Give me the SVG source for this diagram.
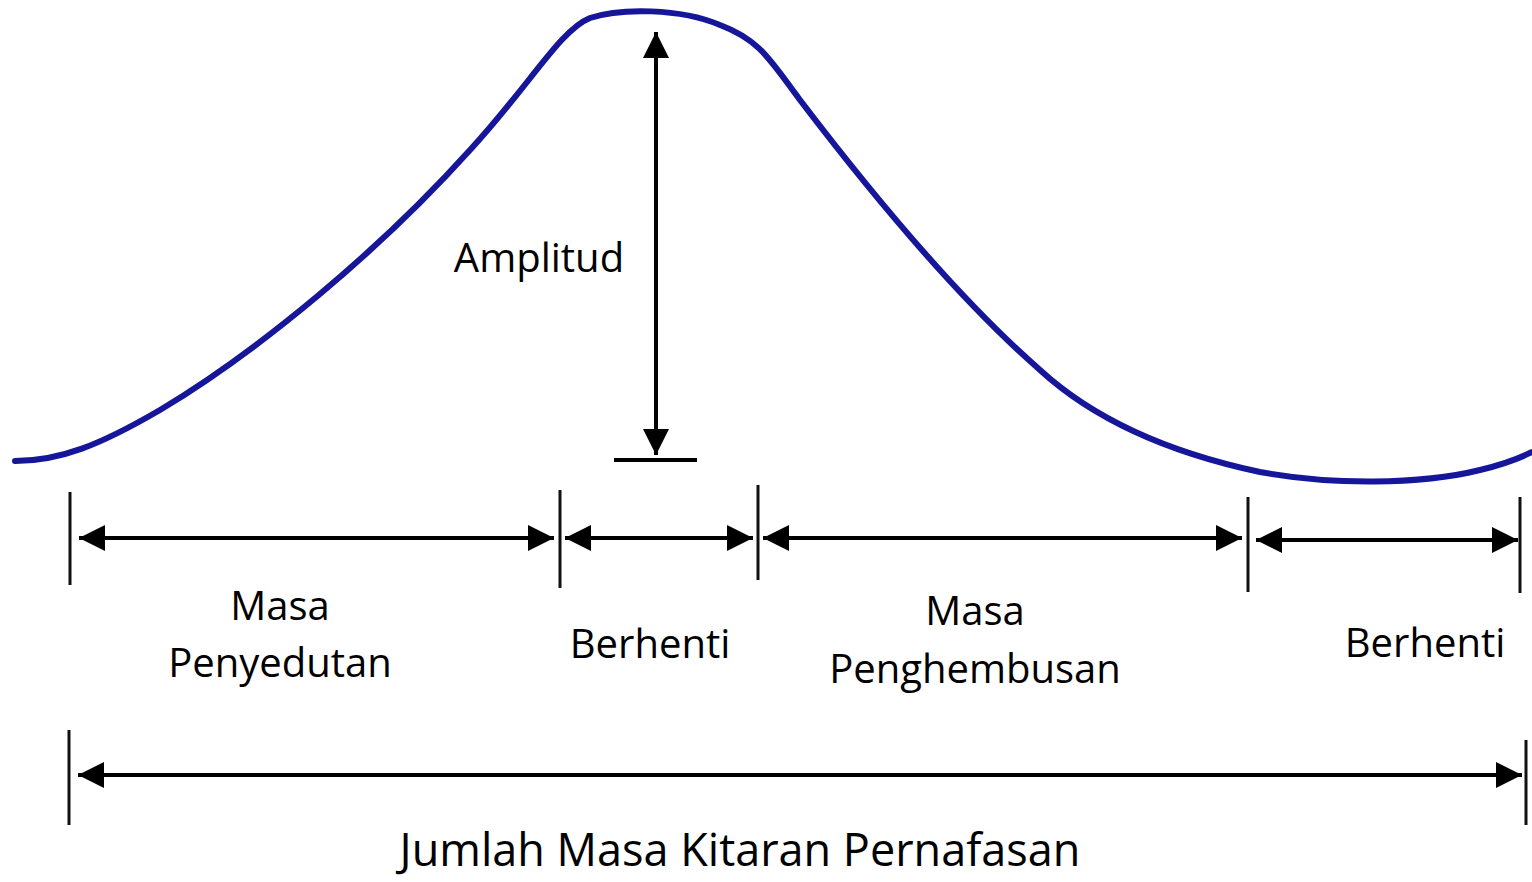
<svg xmlns="http://www.w3.org/2000/svg" width="1532" height="882" viewBox="0 0 1532 882">
<defs>
<marker id="ah" viewBox="0 0 10 10" refX="10" refY="5" markerWidth="26" markerHeight="26" markerUnits="userSpaceOnUse" orient="auto-start-reverse">
<path d="M0,0 L10,5 L0,10 Z" fill="#000"/>
</marker>
</defs>
<style>
.t{font-family:"Open Sans","Noto Sans",sans-serif;fill:#000;font-size:40px;text-anchor:middle}
.ln{stroke:#000;stroke-width:4;fill:none}
.tk{stroke:#111;stroke-width:3;fill:none}
</style>
<rect width="1532" height="882" fill="#fff"/>
<g id="curve">
<path d="M15,461 C60,461 100,445 160,410 C260,350 380,250 470,150 C530,85 560,30 590,18 C620,8 680,8 720,25 C760,40 770,60 800,100 C880,205 960,300 1040,370 C1100,425 1180,455 1260,472 C1330,485 1420,485 1480,470 C1505,464 1520,458 1532,452" stroke="#16169a" stroke-width="6" fill="none" stroke-linecap="round"/>
</g>
<g id="connectors">
<line class="ln" x1="656" y1="32" x2="656" y2="455" marker-start="url(#ah)" marker-end="url(#ah)"/>
<line class="ln" x1="614" y1="460" x2="697" y2="460"/>
<line class="tk" x1="70" y1="492" x2="70" y2="585"/>
<line class="tk" x1="560" y1="490" x2="560" y2="588"/>
<line class="tk" x1="758" y1="485" x2="758" y2="580"/>
<line class="tk" x1="1248" y1="497" x2="1248" y2="592"/>
<line class="tk" x1="1520" y1="497" x2="1520" y2="593"/>
<line class="ln" x1="79" y1="538" x2="554" y2="538" marker-start="url(#ah)" marker-end="url(#ah)"/>
<line class="ln" x1="565" y1="538" x2="753" y2="538" marker-start="url(#ah)" marker-end="url(#ah)"/>
<line class="ln" x1="763" y1="538" x2="1242" y2="538" marker-start="url(#ah)" marker-end="url(#ah)"/>
<line class="ln" x1="1256" y1="540" x2="1518" y2="540" marker-start="url(#ah)" marker-end="url(#ah)"/>
<line class="tk" x1="69" y1="730" x2="69" y2="825"/>
<line class="tk" x1="1526" y1="740" x2="1526" y2="825"/>
<line class="ln" x1="78" y1="775" x2="1522" y2="775" marker-start="url(#ah)" marker-end="url(#ah)"/>
</g>
<g id="amplitud">
<rect x="422" y="217" width="232" height="80" fill="#fff"/>
<text class="t" x="539" y="272">Amplitud</text>
</g>
<g id="penyedutan">
<text class="t" x="280" y="620">Masa</text>
<text class="t" x="280" y="677">Penyedutan</text>
</g>
<g id="berhenti1">
<text class="t" x="650" y="658">Berhenti</text>
</g>
<g id="penghembusan">
<text class="t" x="975" y="625">Masa</text>
<text class="t" x="975" y="683">Penghembusan</text>
</g>
<g id="berhenti2">
<text class="t" x="1425" y="657">Berhenti</text>
</g>
<g id="total">
<text class="t" x="740" y="866" style="font-size:45px">Jumlah Masa Kitaran Pernafasan</text>
</g>
</svg>
